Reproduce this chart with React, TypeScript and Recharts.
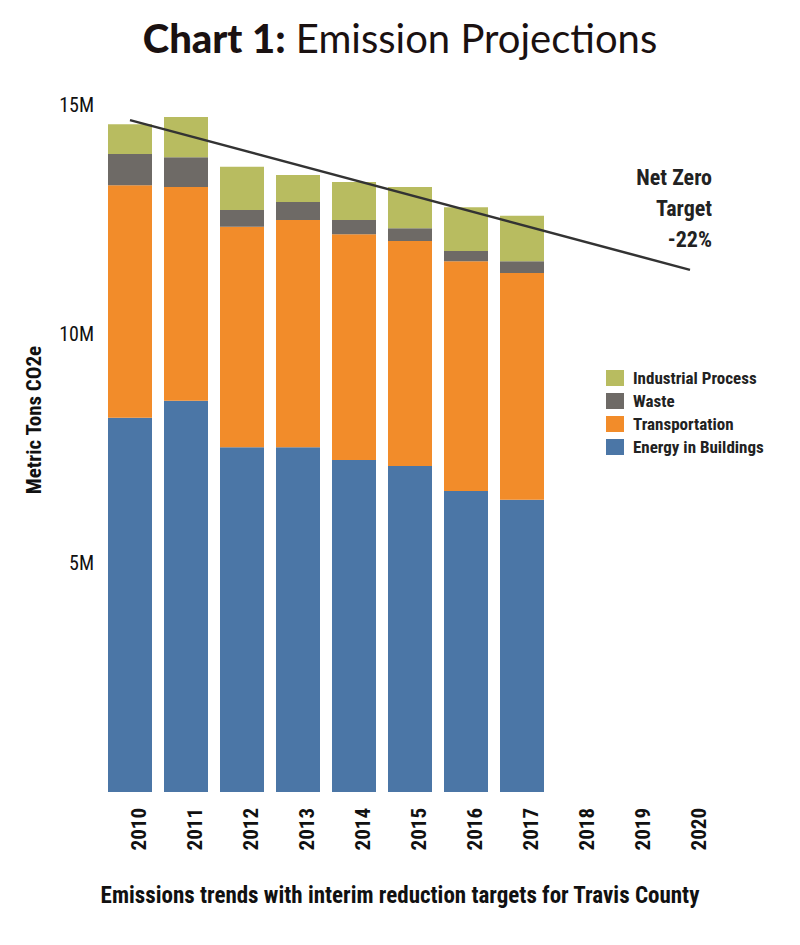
import React from "react";
import { ComposedChart, Bar, Line, XAxis, YAxis } from "recharts";

const years = ["2010","2011","2012","2013","2014","2015","2016","2017","2018","2019","2020"];
const energy = [8.17, 8.54, 7.53, 7.53, 7.25, 7.12, 6.57, 6.38, null, null, null];
const transport = [5.08, 4.67, 4.81, 4.96, 4.93, 4.91, 5.02, 4.95, null, null, null];
const waste = [0.68, 0.65, 0.37, 0.39, 0.31, 0.28, 0.22, 0.26, null, null, null];
const industrial = [0.65, 0.88, 0.94, 0.59, 0.83, 0.90, 0.96, 0.99, null, null, null];
const target = [14.67, null, null, null, null, null, null, null, null, null, 11.4];
const yTicks = [5, 10, 15];

const data = years.map((y, i) => ({
  year: y, energy: energy[i], transport: transport[i], waste: waste[i],
  industrial: industrial[i], target: target[i],
}));

const narrow = "'Liberation Sans Narrow', 'Arial Narrow', 'Roboto Condensed', 'Open Sans', sans-serif";

const XTick = (p: any) => (
  <text x={p.x} y={p.y} transform={`rotate(-90, ${p.x + 8}, ${p.y + 8})`}
    textAnchor="end" fontSize={21} fontWeight={700} fill="#111" fontFamily={narrow}>
    <tspan x={p.x + 8} y={p.y + 16}>{p.payload.value}</tspan>
  </text>
);

const legend = [
  ["Industrial Process", "#b8bc60"],
  ["Waste", "#6e6a66"],
  ["Transportation", "#f28c2a"],
  ["Energy in Buildings", "#4b76a6"],
];

export default function App() {
  return (
    <div style={{ position: "fixed", left: 0, top: 0, width: 800, height: 945, background: "#fff", fontFamily: narrow }}>
      <div style={{ position: "absolute", top: 14, width: 800, textAlign: "center", fontSize: 40, color: "#1a1111", fontFamily: "Lato, sans-serif" }}>
        <span style={{ fontWeight: 900 }}>Chart 1:</span> <span style={{ fontWeight: 400 }}>Emission Projections</span>
      </div>
      <ComposedChart width={800} height={945} data={data}
        margin={{ top: 105, right: 82, bottom: 83, left: 42 }} style={{ position: "absolute", left: 0, top: 0 }}>
        <XAxis dataKey="year" axisLine={false} tickLine={false} height={70} tick={<XTick />} interval={0} />
        <YAxis domain={[0, 15]} ticks={yTicks} axisLine={false} tickLine={false} width={60}
          tickFormatter={(v) => `${v}M`} tick={{ fontSize: 20, fill: "#111", fontFamily: narrow }} />
        <Bar dataKey="energy" stackId="a" fill="#4b76a6" barSize={44} isAnimationActive={false} />
        <Bar dataKey="transport" stackId="a" fill="#f28c2a" barSize={44} isAnimationActive={false} />
        <Bar dataKey="waste" stackId="a" fill="#6e6a66" barSize={44} isAnimationActive={false} />
        <Bar dataKey="industrial" stackId="a" fill="#b8bc60" barSize={44} isAnimationActive={false} />
        <Line dataKey="target" stroke="#333" strokeWidth={2.5} dot={false} connectNulls isAnimationActive={false} />
      </ComposedChart>
      <div style={{ position: "absolute", left: 34, top: 420, transform: "translate(0,-50%) rotate(-90deg)", transformOrigin: "center", width: 0, whiteSpace: "nowrap", display: "flex", justifyContent: "center" }}>
        <span style={{ fontSize: 21, fontWeight: 700, color: "#111" }}>Metric Tons CO2e</span>
      </div>
      <div style={{ position: "absolute", right: 88, top: 162, textAlign: "right", fontSize: 22, fontWeight: 700, color: "#222", lineHeight: "31px" }}>
        Net Zero<br />Target<br />-22%
      </div>
      <div style={{ position: "absolute", left: 606, top: 366 }}>
        {legend.map(([t, c]) => (
          <div key={t} style={{ display: "flex", alignItems: "center", height: 23 }}>
            <div style={{ width: 18, height: 16, background: c, marginRight: 9 }} />
            <span style={{ fontSize: 17, fontWeight: 700, color: "#222" }}>{t}</span>
          </div>
        ))}
      </div>
      <div style={{ position: "absolute", top: 882, width: 800, textAlign: "center", fontSize: 23, fontWeight: 700, color: "#111" }}>
        Emissions trends with interim reduction targets for Travis County
      </div>
    </div>
  );
}
